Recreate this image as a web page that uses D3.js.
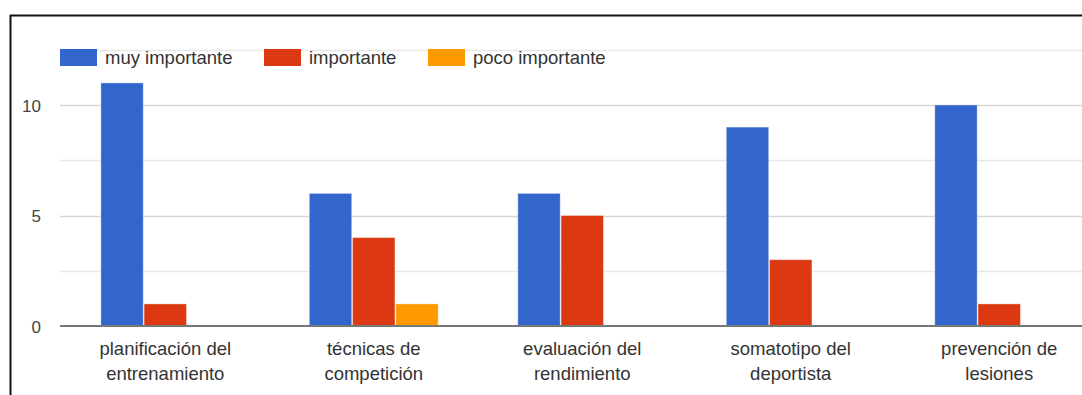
<!DOCTYPE html>
<html>
<head>
<meta charset="utf-8">
<script src="https://cdn.jsdelivr.net/npm/d3@7"></script>
<style>
  html, body { margin: 0; padding: 0; background: #fff; }
  svg { display: block; font-family: "Liberation Sans", Arial, sans-serif; }
</style>
</head>
<body>
<svg id="chart" width="1082" height="395"></svg>
<script>
// Categories (two-line labels) and counts per response level
const categories = [
  ["planificación del", "entrenamiento"],
  ["técnicas de", "competición"],
  ["evaluación del", "rendimiento"],
  ["somatotipo del", "deportista"],
  ["prevención de", "lesiones"]
];
const seriesNames = ["muy importante", "importante", "poco importante"];
const muyImportante = [11, 6, 6, 9, 10];
const importante = [1, 4, 5, 3, 1];
const pocoImportante = [0, 1, 0, 0, 0];
const yTicks = [0, 5, 10];
const gridTicks = [0, 2.5, 5, 7.5, 10, 12.5];

const colors = ["#3366cc", "#dc3912", "#ff9900"];
const series = [muyImportante, importante, pocoImportante];

const svg = d3.select("#chart");
const W = 1082, H = 395;

// frame
svg.append("line").attr("x1", 10).attr("x2", W).attr("y1", 15.5).attr("y2", 15.5)
  .attr("stroke", "#111").attr("stroke-width", 2);
svg.append("line").attr("x1", 10.5).attr("x2", 10.5).attr("y1", 15).attr("y2", H)
  .attr("stroke", "#111").attr("stroke-width", 2);

const plotLeft = 60, plotRight = 1104.5;
const y = d3.scaleLinear().domain([0, 12.5]).range([326, 49.75]);
const x0 = d3.scaleBand().domain(d3.range(categories.length))
  .range([plotLeft, plotRight]).paddingInner(0.382).paddingOuter(0.196);
const x1 = d3.scaleBand().domain(d3.range(seriesNames.length))
  .range([0, x0.bandwidth()]).paddingInner(0.02);

// gridlines
svg.append("g").selectAll("line").data(gridTicks.filter(d => d > 0)).join("line")
  .attr("x1", plotLeft).attr("x2", W)
  .attr("y1", d => Math.round(y(d)) + 0.5).attr("y2", d => Math.round(y(d)) + 0.5)
  .attr("stroke", d => d % 5 === 0 ? "#d6d6d6" : "#e8e8e8").attr("stroke-width", 1.5);

// y axis labels
const yAxis = d3.axisLeft(y).tickValues(yTicks).tickSize(0).tickPadding(0);
const gy = svg.append("g").attr("transform", "translate(41,0)").call(yAxis);
gy.select(".domain").remove();
gy.selectAll("text").attr("font-size", 17).attr("fill", "#444").attr("dy", "0.38em")
  .attr("font-family", "'Liberation Sans', Arial, sans-serif");

// bars
const groups = svg.append("g").selectAll("g").data(categories).join("g")
  .attr("transform", (d, i) => `translate(${x0(i)},0)`);
groups.selectAll("rect")
  .data((d, i) => series.map((s, k) => ({ k, v: s[i] })).filter(e => e.v > 0))
  .join("rect")
  .attr("x", d => x1(d.k))
  .attr("width", x1.bandwidth())
  .attr("y", d => y(d.v))
  .attr("height", d => y(0) - y(d.v))
  .attr("fill", d => colors[d.k])
  .attr("stroke", "#fff").attr("stroke-opacity", 0.35).attr("stroke-width", 1);

// baseline
svg.append("line").attr("x1", plotLeft).attr("x2", W)
  .attr("y1", y(0)).attr("y2", y(0)).attr("stroke", "#777").attr("stroke-width", 2);

// x axis labels (two lines)
const xLab = svg.append("g").selectAll("text").data(categories).join("text")
  .attr("x", (d, i) => x0(i) + x0.bandwidth() / 2)
  .attr("y", 355)
  .attr("text-anchor", "middle")
  .attr("font-size", 18.5).attr("fill", "#333");
xLab.each(function (d) {
  const t = d3.select(this);
  d.forEach((line, j) => {
    t.append("tspan").attr("x", t.attr("x")).attr("dy", j === 0 ? 0 : 24.5).text(line);
  });
});

// legend
const legendX = [60, 264, 428];
const leg = svg.append("g").selectAll("g").data(seriesNames).join("g")
  .attr("transform", (d, i) => `translate(${legendX[i]},49)`);
leg.append("rect").attr("width", 37).attr("height", 17)
  .attr("fill", (d, i) => colors[i]);
leg.append("text").attr("x", 45).attr("y", 15)
  .attr("font-size", 18.5).attr("fill", "#333").text(d => d);
</script>
</body>
</html>
